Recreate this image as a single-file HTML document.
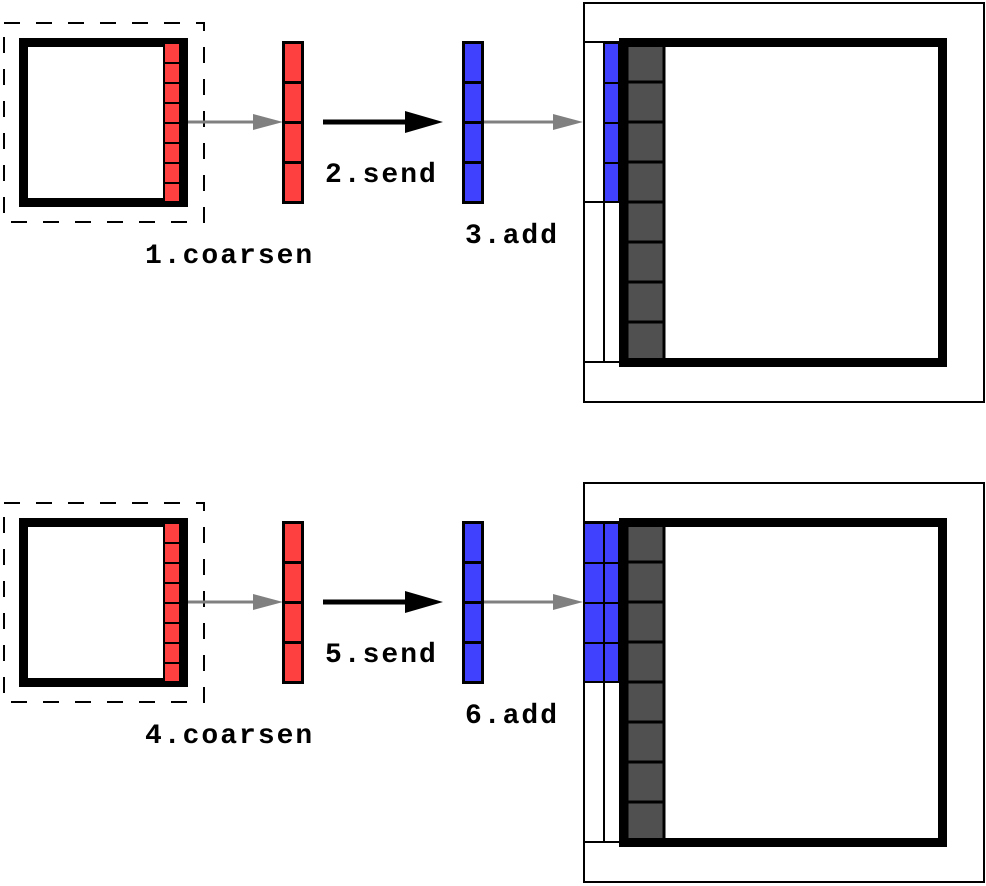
<!DOCTYPE html>
<html><head><style>html,body{margin:0;padding:0;background:#fff}svg{display:block}</style></head><body>
<svg width="986" height="886" viewBox="0 0 986 886" xmlns="http://www.w3.org/2000/svg">
<defs>
<g id="panel">
  <rect x="4" y="23" width="200" height="199" fill="none" stroke="#000" stroke-width="2" stroke-dasharray="16,16"/>
  <rect x="23.5" y="42.5" width="160" height="160" fill="#fff" stroke="#000" stroke-width="9"/>
  <g fill="#ff4040" stroke="#000" stroke-width="2">
    <rect x="164" y="43" width="16" height="20"/><rect x="164" y="63" width="16" height="20"/>
    <rect x="164" y="83" width="16" height="20"/><rect x="164" y="103" width="16" height="20"/>
    <rect x="164" y="123" width="16" height="20"/><rect x="164" y="143" width="16" height="20"/>
    <rect x="164" y="163" width="16" height="20"/><rect x="164" y="183" width="16" height="19"/>
  </g>
  <line x1="188" y1="122" x2="256" y2="122" stroke="#808080" stroke-width="3"/>
  <polygon points="253,114 283,122 253,130" fill="#808080"/>
  <g fill="#ff4040" stroke="#000" stroke-width="3">
    <rect x="283.5" y="42.5" width="19" height="40"/><rect x="283.5" y="82.5" width="19" height="40"/>
    <rect x="283.5" y="122.5" width="19" height="40"/><rect x="283.5" y="162.5" width="19" height="40"/>
  </g>
  <line x1="323" y1="122" x2="408" y2="122" stroke="#000" stroke-width="5"/>
  <polygon points="405,111 443,122 405,133" fill="#000"/>
  <g fill="#4040ff" stroke="#000" stroke-width="3">
    <rect x="463.5" y="42.5" width="19" height="40"/><rect x="463.5" y="82.5" width="19" height="40"/>
    <rect x="463.5" y="122.5" width="19" height="40"/><rect x="463.5" y="162.5" width="19" height="40"/>
  </g>
  <line x1="484" y1="122" x2="555" y2="122" stroke="#808080" stroke-width="3"/>
  <polygon points="553,114 583,122 553,130" fill="#808080"/>
  <rect x="584" y="3" width="400" height="399" fill="none" stroke="#000" stroke-width="2"/>
  <g stroke="#000" stroke-width="2">
    <line x1="584" y1="42" x2="622" y2="42"/>
    <line x1="584" y1="202" x2="622" y2="202"/>
    <line x1="584" y1="362" x2="622" y2="362"/>
    <line x1="604" y1="42" x2="604" y2="362"/>
  </g>
  <g fill="#505050" stroke="#000" stroke-width="3">
    <rect x="627" y="42" width="37" height="40"/><rect x="627" y="82" width="37" height="40"/>
    <rect x="627" y="122" width="37" height="40"/><rect x="627" y="162" width="37" height="40"/>
    <rect x="627" y="202" width="37" height="40"/><rect x="627" y="242" width="37" height="40"/>
    <rect x="627" y="282" width="37" height="40"/><rect x="627" y="322" width="37" height="40"/>
  </g>
  <rect x="623.5" y="42.5" width="319" height="320" fill="none" stroke="#000" stroke-width="9"/>
</g>
</defs>
<use href="#panel"/>
<g fill="#4040ff" stroke="#000" stroke-width="2">
  <rect x="604" y="43" width="15" height="40"/><rect x="604" y="83" width="15" height="40"/>
  <rect x="604" y="123" width="15" height="40"/><rect x="604" y="163" width="15" height="39"/>
</g>
<use href="#panel" y="480"/>
<g fill="#4040ff" stroke="#000" stroke-width="2">
  <rect x="584" y="523" width="20" height="40"/><rect x="584" y="563" width="20" height="40"/>
  <rect x="584" y="603" width="20" height="40"/><rect x="584" y="643" width="20" height="39"/>
  <rect x="604" y="523" width="15" height="40"/><rect x="604" y="563" width="15" height="40"/>
  <rect x="604" y="603" width="15" height="40"/><rect x="604" y="643" width="15" height="39"/>
</g>
<g font-family="Liberation Mono, monospace" font-weight="bold" font-size="28" letter-spacing="2" fill="#000">
  <text x="145" y="263">1.coarsen</text>
  <text x="325" y="182">2.send</text>
  <text x="465" y="243">3.add</text>
  <text x="145" y="743">4.coarsen</text>
  <text x="325" y="662">5.send</text>
  <text x="465" y="723">6.add</text>
</g>
</svg>
</body></html>
